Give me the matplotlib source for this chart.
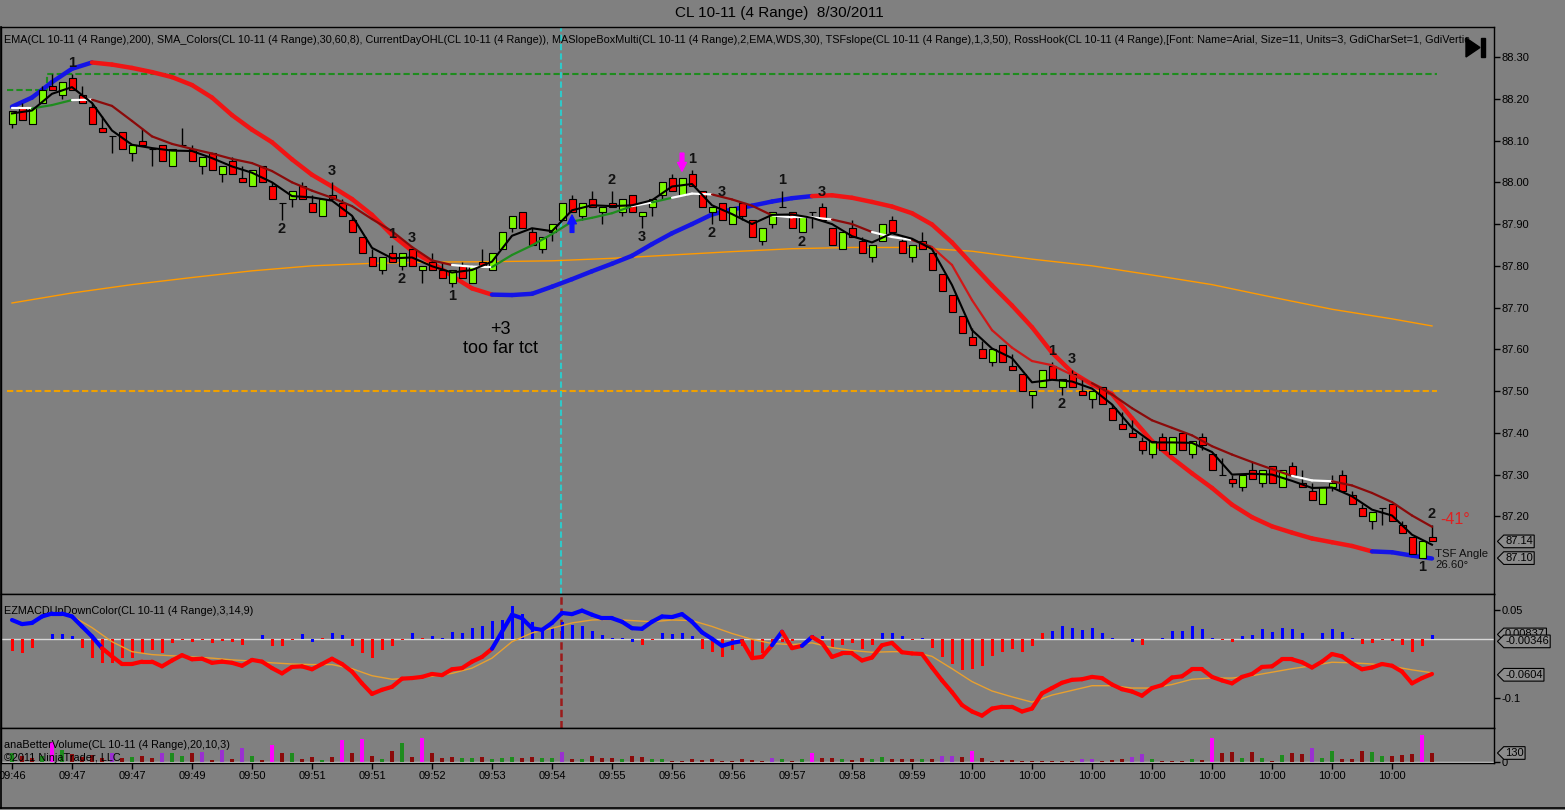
import numpy as np
import matplotlib
matplotlib.use("Agg")
import matplotlib.pyplot as plt
from matplotlib.collections import LineCollection
from matplotlib.lines import Line2D
from matplotlib.patches import Polygon, Rectangle
from matplotlib.path import Path
from matplotlib.ticker import FixedLocator, FormatStrFormatter

plt.rcParams['font.family'] = ['Liberation Sans', 'DejaVu Sans']

# CL 10-11, 4 tick range bars. prices read in cents above 87.00
BASE = 87.00

opens = [114, 118, 114, 119, 123, 121, 125, 121, 118, 113,
         111, 112, 107, 110, 108, 109, 104, 109, 108, 104,
         107, 102, 105, 101, 99, 104, 99, 95, 96, 99,
         95, 92, 97, 95, 91, 87, 82, 79, 83, 80,
         84, 79, 81, 79, 76, 80, 76, 81, 79, 84,
         89, 93, 88, 84, 88, 91, 96, 92, 96, 93,
         95, 93, 97, 92, 94, 97, 101, 97, 102, 98,
         93, 95, 90, 95, 91, 86, 90, 94, 93, 88,
         93, 94, 89, 84, 89, 86, 82, 86, 91, 86,
         82, 86, 83, 78, 73, 68, 63, 60, 57, 61,
         56, 54, 49, 51, 56, 51, 54, 50, 48, 51,
         46, 42, 40, 38, 35, 39, 35, 40, 35, 39,
         35, 30, 29, 27, 31, 28, 32, 27, 32, 28,
         26, 23, 27, 30, 25, 22, 19, 22, 23, 18,
         15, 10, 15]
highs = [117, 119, 118, 123, 126, 124, 126, 123, 119, 116,
         111, 112, 109, 113, 108, 109, 108, 113, 109, 106,
         107, 104, 106, 104, 103, 104, 100, 95, 98, 100,
         97, 96, 100, 96, 92, 87, 84, 82, 85, 83,
         84, 80, 83, 81, 79, 81, 80, 84, 83, 88,
         92, 93, 89, 87, 90, 95, 97, 95, 98, 94,
         98, 96, 97, 93, 96, 100, 102, 101, 103, 98,
         94, 95, 94, 95, 91, 89, 93, 98, 93, 92,
         93, 95, 89, 88, 91, 87, 85, 90, 92, 87,
         85, 88, 83, 78, 73, 68, 65, 62, 60, 61,
         59, 54, 50, 55, 57, 53, 55, 53, 50, 51,
         47, 45, 43, 39, 38, 40, 39, 40, 38, 40,
         35, 34, 30, 30, 33, 31, 32, 31, 33, 31,
         28, 27, 30, 31, 26, 23, 21, 22, 23, 19,
         15, 14, 18]
lows = [113, 115, 114, 119, 122, 120, 122, 119, 114, 112,
        107, 108, 105, 109, 104, 105, 104, 109, 105, 102,
        103, 100, 102, 100, 99, 100, 96, 91, 94, 96,
        93, 92, 96, 92, 88, 83, 80, 78, 81, 79,
        80, 76, 79, 77, 75, 77, 76, 80, 79, 84,
        88, 89, 85, 83, 86, 91, 93, 91, 94, 90,
        94, 92, 93, 89, 92, 96, 98, 97, 99, 94,
        90, 91, 90, 91, 87, 85, 89, 94, 89, 88,
        89, 91, 85, 84, 87, 83, 81, 86, 88, 83,
        81, 84, 79, 74, 69, 64, 61, 58, 56, 57,
        55, 50, 46, 51, 53, 49, 51, 49, 46, 47,
        43, 41, 39, 35, 34, 36, 35, 36, 34, 36,
        31, 30, 27, 26, 29, 27, 28, 27, 30, 27,
        24, 23, 26, 26, 23, 20, 17, 18, 19, 16,
        11, 10, 14]
closes = [117, 115, 118, 122, 122, 124, 122, 119, 114, 112,
          111, 108, 109, 109, 108, 105, 108, 109, 105, 106,
          103, 104, 102, 100, 103, 100, 96, 95, 98, 96,
          93, 96, 96, 92, 88, 83, 80, 82, 81, 83,
          80, 80, 79, 77, 79, 77, 80, 80, 83, 88,
          92, 89, 85, 87, 90, 95, 93, 95, 94, 94,
          94, 96, 93, 93, 96, 100, 98, 101, 99, 94,
          94, 91, 94, 92, 87, 89, 93, 94, 89, 92,
          93, 91, 85, 88, 87, 83, 85, 90, 88, 83,
          85, 84, 79, 74, 69, 64, 61, 58, 60, 57,
          55, 50, 50, 55, 53, 53, 51, 49, 50, 47,
          43, 41, 39, 36, 38, 36, 39, 36, 38, 37,
          31, 30, 28, 30, 29, 31, 28, 31, 30, 27,
          24, 27, 28, 26, 23, 20, 21, 22, 19, 16,
          11, 14, 14]

# moving averages read at every 2nd bar (0, 2, ... 142), cents above 87.00
slow_ma = [118.1, 120.3, 124.0, 127.2, 128.7, 128.2, 127.4, 126.4, 125.2, 123.3,
           120.3, 116.1, 112.6, 109.6, 105.5, 101.8, 99.0, 96.0, 92.2, 87.4,
           83.6, 80.7, 77.6, 74.6, 73.1, 73.0, 73.3, 75.0, 76.8, 78.7,
           80.5, 82.4, 85.2, 87.8, 90.0, 92.3, 93.5, 94.4, 95.4, 96.2,
           96.7, 96.9, 96.3, 95.3, 94.2, 92.6, 89.9, 85.6, 80.4, 75.3,
           70.5, 65.3, 59.2, 54.5, 51.6, 49.3, 43.5, 38.0, 34.0, 30.3,
           26.8, 22.8, 19.8, 17.6, 16.1, 14.7, 13.8, 12.9, 11.6, 11.4,
           10.6, 9.9]
slow_state = ("bbbbbrrrrr"
              "rrrrrrrrrr"
              "rrrrrbbbbb"
              "bbbbbbbbbb"
              "brrrrrrrrr"
              "rrrrrrrrrr"
              "rrrrrrrrrb"
              "bb")
mid_ma = [117.7, 117.7, 118.5, 119.7, 119.8, 118.3, 114.7, 111.0, 109.2, 108.0,
          106.9, 105.6, 104.6, 102.7, 100.0, 98.0, 96.3, 94.3, 91.2, 88.3,
          84.5, 81.3, 80.2, 79.8, 79.7, 82.6, 84.9, 87.6, 90.6, 91.5,
          92.6, 94.3, 95.2, 96.3, 97.3, 97.1, 95.9, 94.4, 92.1, 91.6,
          91.6, 91.1, 90.0, 88.1, 86.9, 86.2, 84.5, 80.2, 71.8, 64.6,
          60.4, 57.2, 56.2, 53.9, 51.9, 49.2, 45.9, 43.0, 41.2, 39.4,
          36.8, 34.8, 33.0, 31.3, 29.7, 28.6, 28.4, 27.4, 25.6, 23.4,
          20.2, 17.5]
mid_state = ("wwggwddddd"
             "dddddddddd"
             "dddwwggggg"
             "ggwgwwdddw"
             "wwddwwdrrr"
             "rrrrrddddd"
             "dddddwwddd"
             "dd")
fast_ma = [116.5, 117.2, 121.2, 122.8, 119.0, 112.4, 109.0, 108.2, 107.6, 107.5,
           105.8, 103.8, 102.3, 100.0, 96.7, 96.4, 95.6, 92.0, 84.3, 81.8,
           82.0, 79.9, 78.4, 79.0, 81.0, 87.2, 89.0, 88.3, 93.3, 94.5,
           94.3, 94.5, 95.7, 99.0, 99.6, 94.5, 92.4, 90.0, 92.2, 92.3,
           91.5, 90.0, 87.1, 85.6, 87.8, 86.5, 84.0, 75.4, 64.6, 60.2,
           57.9, 52.1, 52.7, 52.3, 50.6, 46.8, 41.2, 37.7, 37.7, 37.6,
           35.4, 30.0, 30.2, 30.0, 28.5, 26.8, 26.9, 24.8, 21.6, 20.2,
           15.6, 13.2]
ema200_bars = [0, 6, 12, 18, 24, 30, 36, 42, 48, 54, 60, 66, 72, 78, 84, 90,
               96, 102, 108, 114, 120, 126, 132, 138, 142]
ema200 = [71.1, 73.5, 75.5, 77.2, 78.8, 80.0, 80.6, 80.9, 81.0, 81.2, 81.8, 82.6,
          83.4, 84.1, 84.4, 84.4, 83.5, 81.6, 80.0, 77.8, 75.5, 72.5, 69.6, 67.3, 65.6]

# current day high / open lines
day_high_x = [-0.5, 3.5, 3.5, 142.5]
day_high_y = [88.22, 88.22, 88.26, 88.26]
day_open = 87.50
marker_bar = 54.9

# swing counts (RossHook); a = above the bar, b = below
swing_bars = [6, 27, 32, 38, 39, 40, 44, 60, 63, 68, 70, 71, 77, 79, 81, 104, 105, 106, 141, 142]
swing_text = ['1', '2', '3', '1', '2', '3', '1', '2', '3', '1', '2', '3', '1', '2', '3', '1', '2', '3', '1', '2']
swing_side = "abaababababaabaababa"

# EZMACD panel
macd = [0.033, 0.026, 0.028, 0.039, 0.044, 0.044, 0.039, 0.022, 0.005, -0.015,
        -0.029, -0.042, -0.042, -0.038, -0.038, -0.046, -0.036, -0.027, -0.034, -0.033,
        -0.040, -0.038, -0.040, -0.045, -0.035, -0.038, -0.049, -0.058, -0.047, -0.046,
        -0.051, -0.042, -0.033, -0.042, -0.055, -0.075, -0.093, -0.086, -0.081, -0.067,
        -0.066, -0.064, -0.059, -0.061, -0.051, -0.049, -0.038, -0.030, -0.016, 0.013,
        0.042, 0.036, 0.019, 0.016, 0.028, 0.045, 0.043, 0.049, 0.042, 0.036,
        0.036, 0.030, 0.019, 0.018, 0.030, 0.039, 0.038, 0.043, 0.030, 0.012,
        0.001, -0.011, -0.006, -0.003, -0.032, -0.030, -0.010, 0.013, -0.015, -0.011,
        0.004, -0.006, -0.030, -0.024, -0.024, -0.036, -0.031, -0.010, -0.006, -0.022,
        -0.024, -0.025, -0.048, -0.070, -0.090, -0.112, -0.123, -0.130, -0.118, -0.115,
        -0.115, -0.123, -0.118, -0.092, -0.083, -0.074, -0.069, -0.068, -0.064, -0.066,
        -0.077, -0.085, -0.089, -0.096, -0.083, -0.078, -0.065, -0.063, -0.051, -0.051,
        -0.064, -0.070, -0.075, -0.064, -0.059, -0.047, -0.046, -0.034, -0.034, -0.039,
        -0.048, -0.038, -0.025, -0.029, -0.041, -0.051, -0.048, -0.042, -0.045, -0.055,
        -0.075, -0.066, -0.059]
macd_state = ("bbbbbbbbbb" "rrrrrrrrrr" "rrrrrrrrrr" "rrrrrrrrrr" "rrrrrrrrrb"
              "bbbbbbbbbb" "bbbbbbbbbb" "bbbbrrrbrr" "brrrrrrrrr" "rrrrrrrrrr"
              "rrrrrrrrrr" "rrrrrrrrrr" "rrrrrrrrrr" "rrrrrrrrrr" "rrr")
# signal line read every 2nd bar from bar 6
signal = [0.040, 0.020, -0.004, -0.021, -0.026, -0.028, -0.030, -0.032, -0.035, -0.037,
          -0.040, -0.042, -0.043, -0.043, -0.050, -0.062, -0.068, -0.066, -0.063, -0.058,
          -0.049, -0.032, -0.004, 0.011, 0.019, 0.028, 0.033, 0.034, 0.032, 0.030,
          0.033, 0.032, 0.022, 0.010, 0.000, -0.007, -0.009, -0.006, -0.014, -0.019,
          -0.022, -0.021, -0.021, -0.029, -0.050, -0.072, -0.088, -0.098, -0.107, -0.095,
          -0.087, -0.079, -0.079, -0.083, -0.083, -0.077, -0.068, -0.066, -0.066, -0.062,
          -0.056, -0.050, -0.045, -0.039, -0.040, -0.042, -0.046, -0.052, -0.057]
hist = [-0.020, -0.023, -0.014, 0.000, 0.009, 0.0085, 0.006, -0.014, -0.032, -0.041,
        -0.041, -0.032, -0.032, -0.024, -0.018, -0.023, -0.007, -0.001, -0.004, -0.001,
        -0.007, -0.003, -0.004, -0.010, 0.001, 0.007, -0.011, -0.012, -0.001, 0.009,
        -0.005, 0.002, 0.011, 0.007, -0.011, -0.024, -0.032, -0.019, -0.011, -0.001,
        0.011, 0.003, 0.005, 0.002, 0.013, 0.011, 0.020, 0.023, 0.032, 0.033,
        0.057, 0.043, 0.030, 0.020, 0.019, 0.030, 0.024, 0.023, 0.015, 0.007,
        0.003, 0.003, -0.005, -0.010, -0.001, 0.011, 0.009, 0.011, 0.005, -0.017,
        -0.021, -0.030, -0.019, -0.012, -0.035, -0.024, -0.007, -0.004, -0.002, 0.000,
        0.007, 0.005, -0.015, -0.010, -0.007, -0.017, -0.010, 0.011, 0.011, 0.005,
        -0.001, 0.003, -0.014, -0.030, -0.042, -0.052, -0.051, -0.046, -0.028, -0.021,
        -0.017, -0.021, -0.011, 0.011, 0.015, 0.023, 0.020, 0.016, 0.019, 0.011,
        0.002, 0.001, -0.004, -0.010, 0.000, 0.002, 0.015, 0.015, 0.022, 0.017,
        0.002, -0.001, -0.004, 0.005, 0.007, 0.017, 0.013, 0.020, 0.017, 0.011,
        0.000, 0.010, 0.017, 0.013, 0.002, -0.008, -0.007, -0.001, -0.002, -0.010,
        -0.021, -0.011, 0.008]
hist_state = ("rrrrbbbrrr" "rrrrrrrrrr" "rrrrrbrrrb" "brbbrrrrrr" "brbbbbbbbb"
              "bbbbbbbbbb" "bbbrrbbbbr" "rrrrrrrrrr" "bbrrrrrbbb" "rbrrrrrrrr"
              "rrrrbbbbbb" "bbbrrbbbbb" "brrbbbbbbb" "bbbbbrrrrr" "rrb")

# anaBetterVolume panel
volume = [125, 90, 60, 80, 290, 170, 110, 70, 100, 60,
          130, 60, 75, 85, 60, 135, 135, 85, 135, 150,
          30, 180, 50, 195, 85, 30, 245, 125, 135, 50,
          75, 30, 75, 315, 125, 325, 85, 50, 165, 270,
          75, 340, 135, 60, 75, 60, 60, 75, 50, 60,
          75, 60, 75, 60, 60, 150, 50, 45, 85, 60,
          60, 40, 85, 75, 50, 50, 20, 20, 45, 30,
          45, 20, 15, 50, 30, 20, 60, 50, 15, 50,
          125, 60, 65, 50, 25, 60, 50, 75, 45, 45,
          50, 50, 50, 85, 90, 75, 165, 60, 15, 25,
          25, 20, 20, 15, 15, 15, 15, 45, 40, 20,
          30, 40, 75, 115, 40, 15, 15, 20, 50, 30,
          340, 125, 150, 65, 140, 65, 20, 105, 125, 110,
          197, 53, 158, 43, 43, 158, 139, 91, 91, 100,
          110, 390, 134]
vol_state = ("gddgmgdddd" "pdgddpggdp" "dpdpgdmdgd" "dgdmdmdgdg" "dmdddggdgg"
             "gddggpdgdd" "dgddggdddd" "ddddddpgdg" "mddgddggdd" "dgdppdmddd"
             "dddddddppd" "ddppgdddgd" "mddgdgdgdd" "pggdddggdd" "dmd")

time_labels = ['09:46', '09:47', '09:47', '09:49', '09:50', '09:51', '09:51', '09:52',
               '09:53', '09:54', '09:55', '09:56', '09:56', '09:57', '09:58', '09:59',
               '10:00', '10:00', '10:00', '10:00', '10:00', '10:00', '10:00', '10:00']

# ---------------------------------------------------------------
W, H = 1565, 810
BG = '#808080'


def fx(px):
    return px / W


def fy(py):
    return 1 - py / H


def colored_line(axis, xv, yv, states, palette, lw, z):
    pts = np.column_stack([xv, yv])
    segs = np.stack([pts[:-1], pts[1:]], axis=1)
    cols = [palette[s] for s in states[1:]]
    axis.add_collection(LineCollection(segs, colors=cols, linewidths=lw,
                                       capstyle='round', joinstyle='round', zorder=z))


def tag_box(x0, y0, width, height, mutation_size):
    # NinjaTrader style price tag, pointed on the left
    pad = 0.12 * mutation_size
    x0, y0 = x0 - pad, y0 - pad
    width, height = width + 2 * pad, height + 2 * pad
    tip = height / 2
    return Path([(x0 - tip, y0 + tip), (x0, y0), (x0 + width, y0),
                 (x0 + width, y0 + height), (x0, y0 + height), (x0 - tip, y0 + tip)],
                closed=True)


def price_tag(axis, value, text):
    axis.annotate(text, xy=(1, value), xycoords=('axes fraction', 'data'),
                  xytext=(8, 0), textcoords='offset points', ha='left', va='center',
                  fontsize=8, color='black',
                  bbox=dict(boxstyle=tag_box, fc='#8c8c8c', ec='black', lw=0.8))


x = np.arange(len(closes))
xs = np.arange(0, len(closes), 2)
o = BASE + np.array(opens) / 100
hi = BASE + np.array(highs) / 100
lo = BASE + np.array(lows) / 100
c = BASE + np.array(closes) / 100

fig = plt.figure(figsize=(W / 100, H / 100), dpi=100, facecolor=BG)
ax = fig.add_axes([fx(1), fy(594), fx(1494) - fx(1), fy(27) - fy(594)], facecolor=BG)
axm = fig.add_axes([fx(1), fy(728), fx(1494) - fx(1), fy(594) - fy(728)], facecolor=BG, sharex=ax)
axv = fig.add_axes([fx(1), fy(763), fx(1494) - fx(1), fy(728) - fy(763)], facecolor=BG, sharex=ax)

# ---- price panel ----
ax.plot(day_high_x, day_high_y, color='#1E8C1E', lw=1.5, ls=(0, (3, 1.5)), zorder=1)
ax.plot([day_high_x[0], day_high_x[-1]], [day_open, day_open], color='#F0A000', lw=1.5,
        ls=(0, (3, 1.5)), zorder=1)
ax.axvline(marker_bar, color='#30C8C8', lw=1.5, ls=(0, (3, 1.5)), zorder=1)
ax.plot(ema200_bars, BASE + np.array(ema200) / 100, color='#FF9A00', lw=1, zorder=2)
colored_line(ax, xs, BASE + np.array(slow_ma) / 100, slow_state,
             {'b': '#1414E6', 'r': '#F01414'}, 3.2, 2.5)

ax.vlines(x, lo, hi, colors='black', linewidth=1, zorder=3)
body_col = np.where(c > o, '#7CFC00', '#FF0000')
ax.bar(x, c - o, bottom=o, width=0.7, color=body_col, edgecolor='black', linewidth=0.8, zorder=4)

colored_line(ax, xs, BASE + np.array(mid_ma) / 100, mid_state,
             {'w': '#FFFFFF', 'g': '#1E8C1E', 'd': '#8B0A0A', 'r': '#D01818'}, 1.6, 5)
ax.plot(xs, BASE + np.array(fast_ma) / 100, color='black', lw=1.5, zorder=6)

for b, t, s in zip(swing_bars, swing_text, swing_side):
    if s == 'a':
        ax.annotate(t, (b, hi[b]), xytext=(0, 3), textcoords='offset points',
                    ha='center', va='bottom', fontsize=10.5, fontweight='bold', color='#111111', zorder=7)
    else:
        ax.annotate(t, (b, lo[b]), xytext=(0, -1.5), textcoords='offset points',
                    ha='center', va='top', fontsize=10.5, fontweight='bold', color='#111111', zorder=7)

# entry arrows
ax.annotate('', xy=(56, lo[56]), xytext=(0, -15), textcoords='offset points',
            arrowprops=dict(arrowstyle='simple,head_length=0.7,head_width=0.7,tail_width=0.3',
                            color='#1010FF', shrinkA=0, shrinkB=2.5, mutation_scale=9), zorder=7)
ax.annotate('', xy=(67, hi[67]), xytext=(0, 18), textcoords='offset points',
            arrowprops=dict(arrowstyle='simple,head_length=0.7,head_width=0.7,tail_width=0.3',
                            color='#FF00FF', shrinkA=0, shrinkB=5, mutation_scale=9), zorder=7)

ax.text(48.8, 87.625, '+3\ntoo far tct', ha='center', va='center', fontsize=13,
        linespacing=1.15, color='black', zorder=7)
ax.text(142.8, 87.193, '-41°', ha='left', va='center', fontsize=11.5, color='#E02020', zorder=7)
ax.text(142.3, 87.096, 'TSF Angle\n26.60°', ha='left', va='center', fontsize=8.2,
        linespacing=1.1, color='#111111', zorder=7)

ax.text(0.002, 0.977,
        'EMA(CL 10-11 (4 Range),200), SMA_Colors(CL 10-11 (4 Range),30,60,8), '
        'CurrentDayOHL(CL 10-11 (4 Range)), MASlopeBoxMulti(CL 10-11 (4 Range),2,EMA,WDS,30), '
        'TSFslope(CL 10-11 (4 Range),1,3,50), RossHook(CL 10-11 (4 Range),[Font: Name=Arial, '
        'Size=11, Units=3, GdiCharSet=1, GdiVertic',
        transform=ax.transAxes, ha='left', va='center', fontsize=7.85, color='black',
        clip_on=True, zorder=1)

ax.set_xlim(-1.1, 148.2)
ax.set_ylim(87.014, 88.372)
ax.yaxis.set_major_locator(FixedLocator(np.round(np.arange(87.2, 88.31, 0.1), 2)))
ax.yaxis.set_major_formatter(FormatStrFormatter('%.2f'))
price_tag(ax, c[-1], '%.2f' % c[-1])
price_tag(ax, 87.10, '87.10')

# ---- EZMACD panel ----
axm.axhline(0, color='#D8D8D8', lw=1, zorder=1)
axm.axvline(marker_bar, color='#9B1B1B', lw=1.8, ls=(0, (3, 1.5)), zorder=1)
axm.bar(x, hist, width=0.3, color=['#0000FF' if s == 'b' else '#FF0000' for s in hist_state], zorder=2)
axm.plot(xs[3:], signal, color='#E8A030', lw=1, zorder=3)
colored_line(axm, x, macd, macd_state, {'b': '#0000FF', 'r': '#FF0000'}, 3, 4)
axm.text(0.002, 0.873, 'EZMACDUpDownColor(CL 10-11 (4 Range),3,14,9)', transform=axm.transAxes,
         ha='left', va='center', fontsize=7.85, color='black', zorder=1)
axm.set_ylim(-0.1511, 0.0773)
axm.set_yticks([0.05, -0.1], labels=['0.05', '-0.1'])
price_tag(axm, 0.00837, '0.00837')
price_tag(axm, -0.00346, '-0.00346')
price_tag(axm, -0.0604, '-0.0604')

# ---- volume panel ----
vol_pal = {'m': '#FF00FF', 'p': '#9A30D0', 'g': '#1E8C1E', 'd': '#8B0A0A'}
axv.axhline(0, color='#D8D8D8', lw=1, zorder=1)
axv.bar(x, volume, width=0.35, color=[vol_pal[s] for s in vol_state], zorder=2)
axv.text(0.002, 0.514, 'anaBetterVolume(CL 10-11 (4 Range),20,10,3)', transform=axv.transAxes,
         ha='left', va='center', fontsize=7.85, color='black', zorder=3)
axv.text(0.002, 0.143, '©2011 NinjaTrader, LLC', transform=axv.transAxes,
         ha='left', va='center', fontsize=7.85, color='black', zorder=3)
axv.set_ylim(-14, 490)
axv.set_yticks([0], labels=['0'])
price_tag(axv, volume[-1] - 4, '130')
axv.set_xticks(np.arange(0, 139, 6), labels=time_labels)

# ---- axes styling ----
for a in (ax, axm, axv):
    for sp in a.spines.values():
        sp.set_color('black')
        sp.set_linewidth(1)
    a.yaxis.tick_right()
    a.tick_params(axis='y', direction='out', length=4, width=1, colors='black',
                  labelsize=8, pad=1.5, left=False, right=True)
for a in (ax, axm):
    a.tick_params(axis='x', bottom=False, labelbottom=False)
axv.tick_params(axis='x', direction='out', length=4, width=1, colors='black',
                labelsize=8, pad=2)

# ---- title, frame and the scroll icon ----
fig.text(fx(779), fy(13), 'CL 10-11 (4 Range)  8/30/2011', ha='center', va='center',
         fontsize=11, color='black')
fig.add_artist(Line2D([0, 1], [fy(808), fy(808)], color='black', lw=1.2, transform=fig.transFigure))
fig.add_artist(Line2D([fx(0.6), fx(0.6)], [fy(27), fy(808)], color='black', lw=1.2,
                      transform=fig.transFigure))
fig.add_artist(Polygon([(fx(1466), fy(38)), (fx(1466), fy(57)), (fx(1480), fy(47.5))],
                       closed=True, color='black', transform=fig.transFigure))
fig.add_artist(Rectangle((fx(1481), fy(57)), fx(4), fy(38) - fy(57), color='black',
                         transform=fig.transFigure))

fig.savefig('out.png', dpi=100, facecolor=BG)
